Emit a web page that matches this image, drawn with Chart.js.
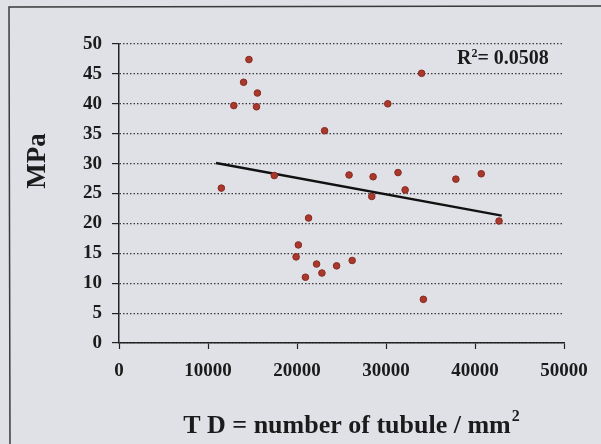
<!DOCTYPE html>
<html>
<head>
<meta charset="utf-8">
<script src="https://cdn.jsdelivr.net/npm/chart.js@4.4.1/dist/chart.umd.min.js"></script>
<style>
  html, body { margin: 0; padding: 0; background: #dfe1e7; }
  #wrap { width: 601px; height: 444px; }
</style>
</head>
<body>
<div id="wrap"><canvas id="chart" width="601" height="444"></canvas></div>
<script>
// values
const tdValues  = [11500, 12900, 14000, 14600, 15550, 15450, 17450, 23100, 25850, 28550,
                   31350, 34000, 30200, 37850, 40700, 28400, 32150, 42700, 24450, 26200,
                   34200, 21300, 20150, 19900, 22200, 22800, 20950];
const mpaValues = [25.9, 39.7, 43.6, 47.4, 41.8, 39.5, 28.0, 35.5, 28.1, 27.8,
                   28.5, 45.1, 40.0, 27.4, 28.3, 24.5, 25.6, 20.4, 12.9, 13.8,
                   7.3, 20.9, 16.4, 14.4, 13.2, 11.7, 11.0];
const trendX = [10900, 43000];
const trendY = [30.1, 21.3];
const xTicks = [0, 10000, 20000, 30000, 40000, 50000];
const yTicks = [0, 5, 10, 15, 20, 25, 30, 35, 40, 45, 50];
const rSquared = "0.0508";
const xTitle = "T D = number of tubule / mm";
const yTitle = "MPa";

const serif = '"Liberation Serif", "Times New Roman", serif';
const ink = "#1b1b1b";

// frame, axis titles and R² label
const paperText = {
  id: "paperText",
  beforeDraw(chart) {
    const ctx = chart.ctx;
    ctx.save();
    ctx.fillStyle = "#dfe1e7";
    ctx.fillRect(0, 0, chart.width, chart.height);
    ctx.strokeStyle = "#3a3a3a";
    ctx.lineWidth = 1.5;
    ctx.beginPath();
    ctx.moveTo(10, chart.height);
    ctx.lineTo(9, 7);
    ctx.lineTo(chart.width, 6);
    ctx.stroke();
    ctx.restore();
  },
  afterDraw(chart) {
    const ctx = chart.ctx;
    ctx.save();
    ctx.fillStyle = ink;
    ctx.textBaseline = "alphabetic";

    // x title with superscript 2
    ctx.font = "bold 26px " + serif;
    const w1 = ctx.measureText(xTitle).width;
    ctx.font = "bold 16px " + serif;
    const w2 = ctx.measureText("2").width;
    const x = 351 - (w1 + w2) / 2;
    ctx.textAlign = "left";
    ctx.font = "bold 26px " + serif;
    ctx.fillText(xTitle, x, 433);
    ctx.font = "bold 16px " + serif;
    ctx.fillText("2", x + w1 + 1, 421);

    // y title
    ctx.save();
    ctx.translate(45, 161);
    ctx.rotate(-Math.PI / 2);
    ctx.textAlign = "center";
    ctx.font = "bold 27px " + serif;
    ctx.fillText(yTitle, 0, 0);
    ctx.restore();

    // R² label
    ctx.textAlign = "left";
    ctx.font = "bold 20px " + serif;
    let rx = 457;
    ctx.fillText("R", rx, 64);
    rx += ctx.measureText("R").width;
    ctx.font = "bold 12px " + serif;
    ctx.fillText("2", rx, 57);
    rx += ctx.measureText("2").width;
    ctx.font = "bold 20px " + serif;
    ctx.fillText("= " + rSquared, rx, 64);
    ctx.restore();
  },
};

const points = tdValues.map((v, i) => ({ x: v, y: mpaValues[i] }));
const trend = trendX.map((v, i) => ({ x: v, y: trendY[i] }));

const config = {
  type: "scatter",
  data: {
    datasets: [
      {
        label: "MPa",
        data: points,
        backgroundColor: "#a8392c",
        borderColor: "#8a2a20",
        borderWidth: 1,
        pointRadius: 3.3,
        pointStyle: "circle",
      },
      {
        label: "trend",
        data: trend,
        showLine: true,
        borderColor: "#111",
        borderWidth: 2.5,
        pointRadius: 0,
        fill: false,
      },
    ],
  },
  options: {
    responsive: false,
    animation: false,
    layout: { padding: { left: 0, top: 44, right: 37, bottom: 0 } },
    plugins: {
      legend: { display: false },
      tooltip: { enabled: false },
    },
    scales: {
      x: {
        type: "linear",
        min: 0,
        max: 50000,
        afterBuildTicks(scale) {
          scale.ticks = xTicks.map((v) => ({ value: v }));
        },
        afterFit(scale) { scale.height = 101; },
        ticks: {
          color: ink,
          padding: 11,
          maxRotation: 0,
          font: { family: serif, size: 19, weight: "bold" },
          callback: (v) => String(v),
        },
        grid: {
          drawOnChartArea: false,
          drawTicks: true,
          tickLength: 6,
          tickColor: "#222",
          tickWidth: 1.2,
        },
        border: { color: "#222", width: 1.5 },
      },
      y: {
        type: "linear",
        min: 0,
        max: 50,
        afterBuildTicks(scale) {
          scale.ticks = yTicks.map((v) => ({ value: v }));
        },
        afterFit(scale) { scale.width = 119; },
        ticks: {
          color: ink,
          padding: 10,
          font: { family: serif, size: 19, weight: "bold" },
        },
        grid: {
          color: "#3a3a3a",
          lineWidth: 1.2,
          drawTicks: true,
          tickLength: 7,
          tickColor: "#222",
          tickWidth: 1.2,
        },
        border: { color: "#222", width: 1.5, dash: [1.5, 2] },
      },
    },
  },
  plugins: [paperText],
};

const myChart = new Chart(document.getElementById("chart"), config);
</script>
</body>
</html>
